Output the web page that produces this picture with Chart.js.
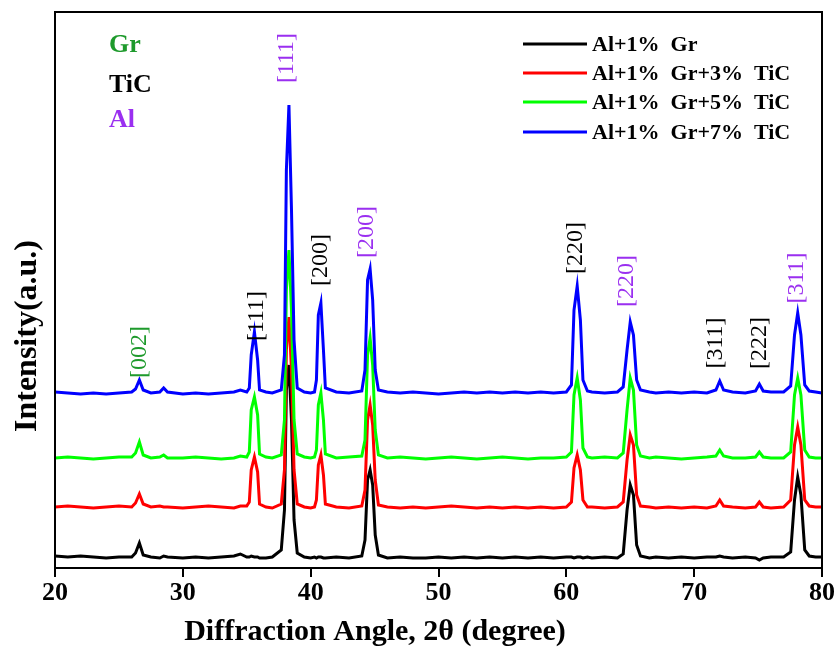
<!DOCTYPE html>
<html>
<head>
<meta charset="utf-8">
<script src="https://cdn.jsdelivr.net/npm/chart.js@4.4.1/dist/chart.umd.min.js"></script>
<style>
  html, body { margin: 0; padding: 0; background: #fff; }
  #xrdChart { display: block; }
</style>
</head>
<body>
<canvas id="xrdChart" width="836" height="648"></canvas>
<script>
// 2θ positions (degree), shared by all four patterns
const twoTheta = [
    20, 21, 22, 23, 24, 25, 26, 26.3, 26.6, 26.9,
    27.5, 28.2, 28.5, 28.8, 30, 31, 32, 33, 34, 34.5,
    35, 35.2, 35.35, 35.6, 35.85, 36.0, 36.5, 37, 37.7, 37.95,
    38.1, 38.3, 38.5, 38.7, 38.95, 39.5, 40, 40.3, 40.45, 40.6,
    40.8, 41.0, 41.15, 42, 43, 44, 44.25, 44.45, 44.65, 44.85,
    45.05, 45.3, 46, 47, 48, 49, 50, 51, 52, 53,
    54, 55, 56, 57, 58, 59, 60, 60.4, 60.6, 60.85,
    61.1, 61.3, 61.65, 62, 63, 64, 64.45, 64.75, 65.0, 65.25,
    65.5, 65.8, 66.5, 67, 68, 69, 70, 71, 71.7, 72,
    72.3, 73, 74, 74.8, 75.1, 75.4, 76, 77, 77.55, 77.85,
    78.1, 78.35, 78.65, 79, 79.5, 80
];

// intensities (a.u., already stacked as plotted)
const intensityGr = [
    14, 13, 14, 13, 12, 13, 13, 17, 27, 15,
    13, 12, 14, 13, 12, 13, 12, 13, 14, 16,
    13, 13, 14, 13, 13, 12, 12, 13, 20, 60,
    180, 205, 150, 50, 17, 13, 12, 13, 12, 13,
    13, 12, 12, 13, 12, 14, 30, 90, 100, 85,
    35, 15, 12, 13, 12, 12, 13, 12, 13, 12,
    13, 12, 13, 12, 13, 12, 13, 13, 12, 13,
    13, 12, 13, 12, 13, 12, 16, 60, 85, 75,
    25, 14, 12, 13, 12, 13, 12, 13, 13, 14,
    13, 12, 13, 12, 10, 12, 13, 13, 18, 70,
    93, 75, 20, 14, 13, 13
];
const intensityTiC3 = [
    63, 64, 63, 62, 63, 64, 63, 67, 76, 66,
    63, 64, 63, 63, 62, 63, 64, 63, 62, 64,
    64, 68, 100, 113, 98, 66, 63, 62, 66, 100,
    220, 253, 200, 100, 66, 63, 62, 63, 70, 105,
    115, 95, 66, 63, 62, 64, 80, 150, 165, 145,
    90, 65, 63, 62, 63, 62, 63, 64, 63, 62,
    63, 62, 63, 62, 63, 62, 63, 68, 102, 115,
    100, 70, 63, 63, 62, 63, 68, 110, 135, 125,
    75, 64, 63, 62, 63, 62, 63, 62, 64, 70,
    64, 63, 62, 63, 68, 63, 62, 63, 70, 125,
    143, 125, 70, 64, 63, 63
];
const intensityTiC5 = [
    112, 113, 112, 111, 112, 113, 113, 117, 128, 115,
    112, 113, 115, 112, 112, 113, 112, 111, 112, 114,
    113, 118, 160, 173, 155, 116, 113, 112, 115, 150,
    280, 320, 260, 150, 116, 113, 112, 113, 120, 165,
    177, 150, 116, 112, 113, 114, 130, 215, 232, 205,
    140, 115, 112, 113, 112, 111, 112, 113, 112, 111,
    112, 113, 112, 111, 112, 112, 113, 118, 175, 192,
    170, 122, 113, 112, 113, 112, 117, 160, 192, 180,
    125, 114, 112, 113, 112, 111, 112, 113, 114, 120,
    114, 112, 112, 113, 118, 113, 112, 112, 118, 175,
    192, 175, 120, 113, 112, 112
];
const intensityTiC7 = [
    178, 177, 176, 177, 176, 177, 178, 181, 190, 180,
    177, 178, 182, 178, 176, 177, 176, 177, 178, 180,
    178, 182, 215, 238, 210, 180, 178, 177, 180, 215,
    400, 465, 360, 230, 182, 178, 177, 178, 190, 255,
    267, 220, 182, 178, 177, 179, 200, 290, 301, 270,
    200, 180, 178, 177, 178, 177, 176, 177, 178, 177,
    178, 177, 178, 177, 178, 177, 178, 185, 260, 284,
    250, 190, 179, 178, 177, 178, 183, 220, 248, 235,
    190, 180, 178, 177, 178, 177, 178, 177, 180, 189,
    180, 178, 177, 179, 186, 179, 178, 178, 184, 235,
    257, 235, 185, 179, 178, 177
];

const seriesNames = ['Al+1%  Gr', 'Al+1%  Gr+3%  TiC', 'Al+1%  Gr+5%  TiC', 'Al+1%  Gr+7%  TiC'];
const seriesColors = ['#000000', '#ff0000', '#00ff00', '#0000ff'];

// peak indexing
const peakLabels = ['[002]', '[111]', '[111]', '[200]', '[200]', '[220]', '[220]', '[311]', '[222]', '[311]'];
const peakPhases = ['Gr', 'TiC', 'Al', 'TiC', 'Al', 'TiC', 'Al', 'TiC', 'TiC', 'Al'];
const peakAngles = [26.6, 35.8, 38.15, 40.75, 44.35, 60.7, 64.75, 71.7, 75.1, 78.0];
const peakLabelHeights = [218, 254, 512, 310, 338, 322, 289, 227, 227, 292];

const phaseNames = ['Gr', 'TiC', 'Al'];
const PHASE_COLORS = { Gr: '#1e9a2c', TiC: '#000000', Al: '#9a2ff0' };
const SERIF = '"Liberation Serif", "Times New Roman", serif';

const decorPlugin = {
    id: 'decor',
    afterDraw(chart) {
        const { ctx, chartArea: a, scales: { x, y } } = chart;
        ctx.save();

        // frame round the plot
        ctx.strokeStyle = '#000';
        ctx.lineWidth = 2;
        ctx.strokeRect(a.left, a.top, a.right - a.left, a.bottom - a.top);

        // peak labels, rotated
        ctx.font = '24px ' + SERIF;
        ctx.textAlign = 'center';
        ctx.textBaseline = 'middle';
        peakLabels.forEach((txt, i) => {
            ctx.save();
            ctx.translate(x.getPixelForValue(peakAngles[i]), y.getPixelForValue(peakLabelHeights[i]));
            ctx.rotate(-Math.PI / 2);
            ctx.fillStyle = PHASE_COLORS[peakPhases[i]];
            ctx.fillText(txt, 0, 0);
            ctx.restore();
        });

        // phase key top left
        ctx.font = 'bold 26px ' + SERIF;
        ctx.textAlign = 'left';
        ctx.textBaseline = 'alphabetic';
        const keyBase = [52, 92, 127];
        phaseNames.forEach((p, i) => {
            ctx.fillStyle = PHASE_COLORS[p];
            ctx.fillText(p, 109, keyBase[i]);
        });

        // series legend top right
        ctx.font = 'bold 22px ' + SERIF;
        ctx.textBaseline = 'middle';
        const rowY = [44, 73, 102, 132];
        seriesNames.forEach((name, i) => {
            ctx.strokeStyle = seriesColors[i];
            ctx.lineWidth = 3;
            ctx.beginPath();
            ctx.moveTo(523, rowY[i]);
            ctx.lineTo(587, rowY[i]);
            ctx.stroke();
            ctx.fillStyle = '#000';
            ctx.fillText(name, 592, rowY[i] + 1);
        });

        // axis titles
        ctx.fillStyle = '#000';
        ctx.textAlign = 'center';
        ctx.font = 'bold 30px ' + SERIF;
        ctx.fillText('Diffraction Angle, 2\u03b8 (degree)', 375, 632);
        ctx.translate(28, 336);
        ctx.rotate(-Math.PI / 2);
        ctx.font = 'bold 32px ' + SERIF;
        ctx.fillText('Intensity(a.u.)', 0, 0);

        ctx.restore();
    }
};

function toPoints(values) {
    return twoTheta.map((t, i) => ({ x: t, y: values[i] }));
}

const allSeries = [intensityGr, intensityTiC3, intensityTiC5, intensityTiC7];

new Chart(document.getElementById('xrdChart'), {
    type: 'line',
    data: {
        datasets: allSeries.map((vals, i) => ({
            label: seriesNames[i],
            data: toPoints(vals),
            borderColor: seriesColors[i],
            borderWidth: 3,
            pointRadius: 0,
            tension: 0,
            order: 3 - i
        }))
    },
    options: {
        responsive: false,
        animation: false,
        layout: { padding: { left: 55, right: 14, top: 12, bottom: 0 } },
        plugins: {
            legend: { display: false },
            tooltip: { enabled: false }
        },
        scales: {
            x: {
                type: 'linear',
                min: 20,
                max: 80,
                afterFit: s => { s.height = 80; },
                grid: { drawOnChartArea: false, tickLength: 9, color: '#000', lineWidth: 2 },
                border: { display: true, color: '#000', width: 2 },
                ticks: {
                    stepSize: 10,
                    color: '#000',
                    padding: 1,
                    maxRotation: 0,
                    font: { family: SERIF, size: 26, weight: 'bold' }
                }
            },
            y: { display: false, min: 2, max: 558 }
        }
    },
    plugins: [decorPlugin]
});
</script>
</body>
</html>
